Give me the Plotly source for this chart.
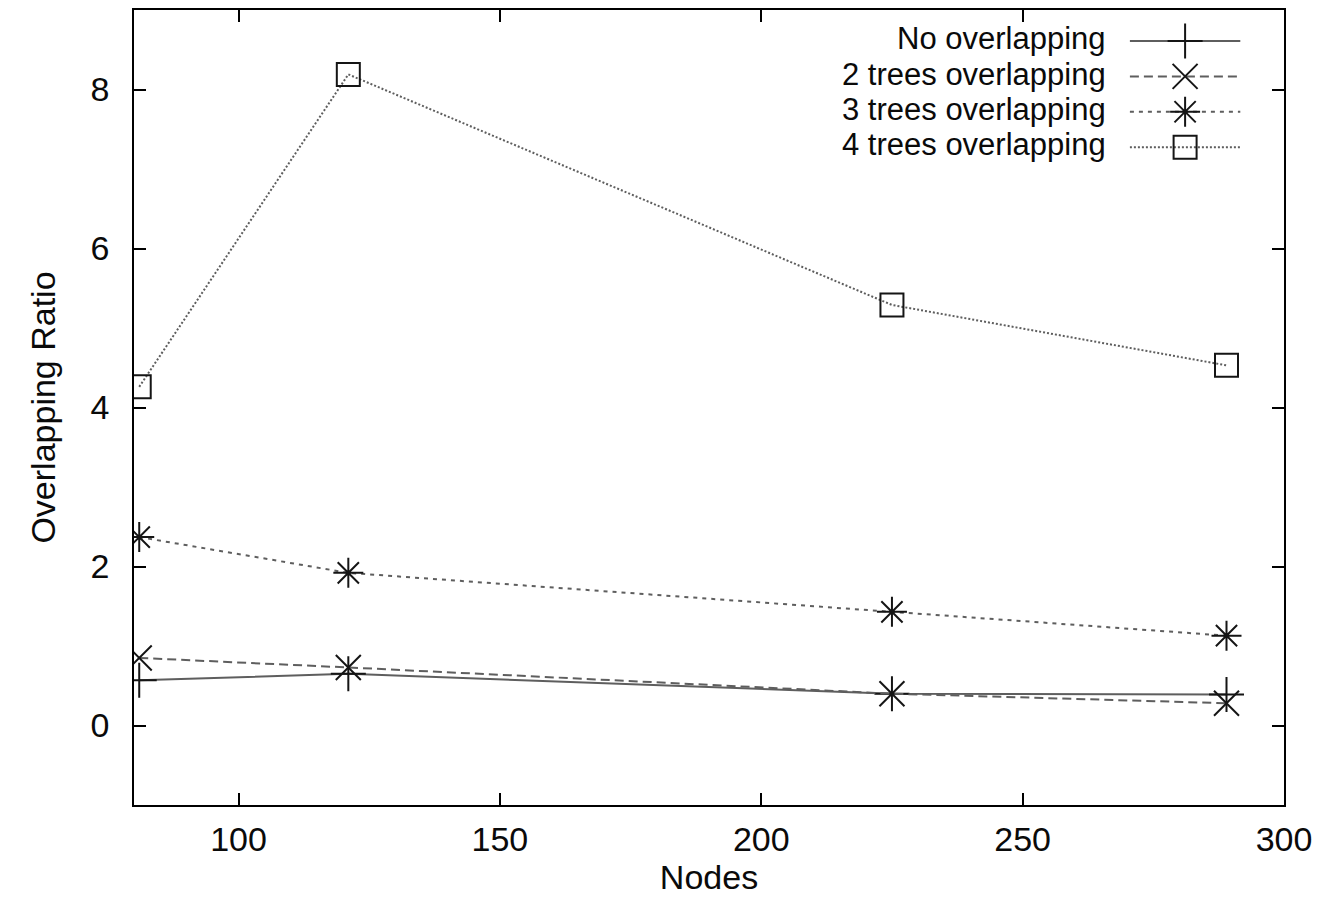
import plotly.graph_objects as go

# Measured overlapping ratio per network size
nodes = [81, 121, 225, 289]
series_names = ["No overlapping", "2 trees overlapping", "3 trees overlapping", "4 trees overlapping"]
no_overlap = [0.57, 0.65, 0.40, 0.39]
two_trees = [0.85, 0.73, 0.40, 0.28]
three_trees = [2.37, 1.92, 1.43, 1.13]
four_trees = [4.26, 8.19, 5.29, 4.53]
x_ticks = [100, 150, 200, 250, 300]
y_ticks = [0, 2, 4, 6, 8]

series_values = [no_overlap, two_trees, three_trees, four_trees]
symbols = ["cross-thin", "x-thin", "asterisk", "square-open"]
dashes = ["solid", "9px,5px", "4px,5px", "2px,2px"]
marker_sizes = [25, 25, 25, 23]

FONT = "Liberation Sans, Arial, sans-serif"
FSIZE = 34
KEY_FSIZE = 31
TEXT_COLOR = "#0a0a0a"
LINE_COLOR = "#5e5e5e"
MARK_COLOR = "#151515"

fig = go.Figure()

for name, vals, sym, dash, ms in zip(series_names, series_values, symbols, dashes, marker_sizes):
    fig.add_trace(go.Scatter(
        x=nodes, y=vals, name=name, mode="lines+markers",
        line=dict(color=LINE_COLOR, width=2, dash=dash),
        marker=dict(symbol=sym, size=ms, color=MARK_COLOR,
                    line=dict(color=MARK_COLOR, width=2)),
        showlegend=False,
    ))

# Key box in the upper right: label text right-aligned, line sample with marker to its right
row_y = [0.961, 0.9165, 0.872, 0.8275]
sample_x0, sample_x1 = 0.866, 0.962
for name, sym, dash, ms, ry in zip(series_names, symbols, dashes, marker_sizes, row_y):
    fig.add_trace(go.Scatter(
        x=[sample_x0, sample_x1], y=[ry, ry], mode="lines",
        line=dict(color=LINE_COLOR, width=2, dash=dash),
        xaxis="x2", yaxis="y2", showlegend=False, hoverinfo="skip",
    ))
    fig.add_trace(go.Scatter(
        x=[(sample_x0 + sample_x1) / 2], y=[ry], mode="markers",
        marker=dict(symbol=sym, size=ms, color=MARK_COLOR,
                    line=dict(color=MARK_COLOR, width=2)),
        xaxis="x2", yaxis="y2", showlegend=False, hoverinfo="skip",
    ))
    fig.add_annotation(
        x=0.847, y=ry + 0.003, xref="x2", yref="y2", text=name, showarrow=False,
        xanchor="right", yanchor="middle",
        font=dict(family=FONT, size=KEY_FSIZE, color=TEXT_COLOR),
    )

axis_common = dict(
    showline=True, linecolor="black", linewidth=1.8, mirror="allticks",
    ticks="inside", ticklen=12, tickwidth=1.8, tickcolor="black",
    showgrid=False, zeroline=False,
    tickfont=dict(family=FONT, size=FSIZE, color=TEXT_COLOR),
)

fig.update_layout(
    width=1324, height=911,
    margin=dict(l=134, r=40, t=8, b=106),
    paper_bgcolor="white", plot_bgcolor="white",
    xaxis=dict(range=[80, 300], tickvals=x_ticks, ticklabelstandoff=3,
               title=dict(text="Nodes", font=dict(family=FONT, size=FSIZE, color=TEXT_COLOR), standoff=2),
               **axis_common),
    yaxis=dict(range=[-1, 9], tickvals=y_ticks, ticklabelstandoff=16,
               title=dict(text="Overlapping Ratio", font=dict(family=FONT, size=FSIZE, color=TEXT_COLOR), standoff=24),
               **axis_common),
    xaxis2=dict(range=[0, 1], overlaying="x", visible=False, fixedrange=True),
    yaxis2=dict(range=[0, 1], overlaying="y", visible=False, fixedrange=True),
)

fig.write_html("out.html")
